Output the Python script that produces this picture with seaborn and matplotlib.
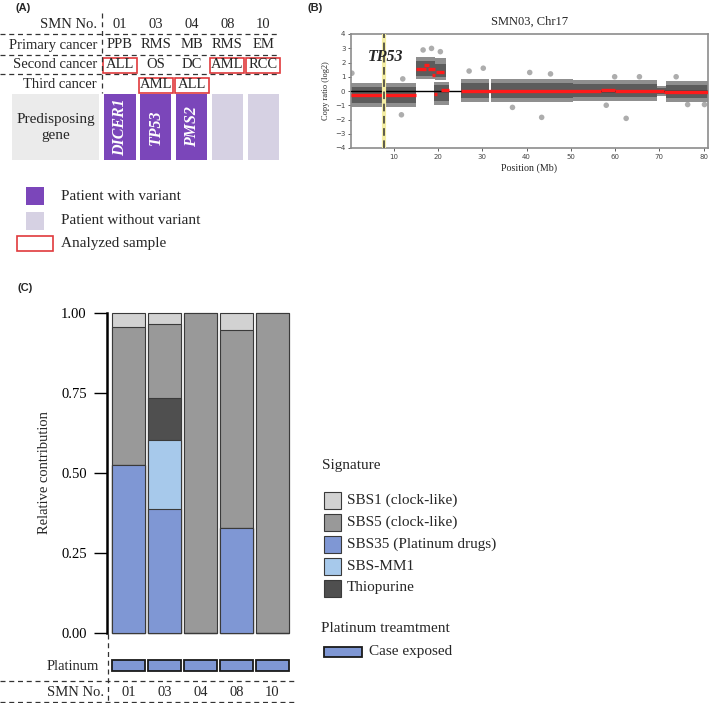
import matplotlib
matplotlib.use('Agg')
import matplotlib.pyplot as plt
import matplotlib.patches as mpatches
import numpy as np
import pandas as pd
import seaborn as sns

sns.set_theme(style='white')
plt.rcParams['font.family'] = ['Liberation Serif', 'DejaVu Sans']

W, H = 709, 703

# ---------------- panel A data
smn_ids = ['01', '03', '04', '08', '10']
primary_cancer = ['PPB', 'RMS', 'MB', 'RMS', 'EM']
second_cancer = ['ALL', 'OS', 'DC', 'AML', 'RCC']
third_cancer = ['', 'AML', 'ALL', '', '']
predisposing_gene = ['DICER1', 'TP53', 'PMS2', '', '']
analyzed_second = [True, False, False, True, True]
analyzed_third = [False, True, True, False, False]

# ---------------- panel B data (SMN03, chr17)
seg_start = [0.3, 15.0, 16.8, 17.8, 18.7, 19.0, 19.6, 20.7, 25.2, 56.8, 59.9, 71.0]
seg_end = [15.0, 17.2, 18.0, 19.3, 19.4, 19.8, 21.3, 22.5, 56.8, 59.9, 71.0, 81.0]
seg_log2 = [-0.30, 1.55, 1.85, 1.55, 1.15, -0.20, 1.35, 0.05, 0.0, 0.10, 0.02, -0.05]

cloud_start = [0.3, 15.0, 19.4, 19.0, 25.2, 32.0, 50.5, 69.5, 71.5]
cloud_end = [15.0, 19.3, 21.7, 22.4, 31.6, 50.5, 69.5, 71.5, 81.0]
core_low = [-0.85, 1.05, 1.0, -0.7, -0.5, -0.5, -0.45, -0.2, -0.5]
core_high = [0.25, 2.1, 1.9, 0.4, 0.55, 0.55, 0.5, 0.2, 0.45]
halo_low = [-1.1, 0.85, 0.8, -1.0, -0.75, -0.8, -0.7, -0.35, -0.75]
halo_high = [0.55, 2.4, 2.3, 0.6, 0.85, 0.85, 0.8, 0.35, 0.7]

outlier_pos = [0.5, 11.7, 12.0, 16.6, 18.5, 20.5, 27.0, 30.2, 36.8, 40.7, 43.4,
               45.4, 58.0, 59.9, 62.5, 65.5, 73.8, 76.4, 80.2]
outlier_log2 = [1.25, -1.67, 0.85, 2.88, 2.99, 2.76, 1.4, 1.6, -1.15, 1.3, -1.85,
                1.2, -1.0, 1.0, -1.92, 1.0, 1.0, -0.95, -0.95]
tp53_pos = 7.7

# ---------------- panel C data
signatures = ['SBS35 (Platinum drugs)', 'SBS-MM1', 'Thiopurine',
              'SBS5 (clock-like)', 'SBS1 (clock-like)']
sbs35 = [0.524, 0.389, 0.0, 0.328, 0.0]
sbs_mm1 = [0.0, 0.213, 0.0, 0.0, 0.0]
thiopurine = [0.0, 0.132, 0.0, 0.0, 0.0]
sbs5 = [0.432, 0.232, 1.0, 0.619, 1.0]
sbs1 = [0.044, 0.034, 0.0, 0.053, 0.0]
platinum_exposed = [1, 1, 1, 1, 1]

sig_colors = {'SBS1 (clock-like)': '#d2d2d2', 'SBS5 (clock-like)': '#999999',
              'SBS35 (Platinum drugs)': '#7f97d4', 'SBS-MM1': '#a7c9eb',
              'Thiopurine': '#4f4f4f'}
legend_order = ['SBS1 (clock-like)', 'SBS5 (clock-like)', 'SBS35 (Platinum drugs)',
                'SBS-MM1', 'Thiopurine']

PURPLE = '#7b46ba'
LAVENDER = '#d6d1e3'
RED = '#e03a3c'
DASH = (0, (4, 3))


def px_rect(x0, y0, x1, y1):
    return [x0 / W, 1 - y1 / H, (x1 - x0) / W, (y1 - y0) / H]


fig = plt.figure(figsize=(W / 100, H / 100), dpi=100)
bg = fig.add_axes([0, 0, 1, 1])
bg.set_xlim(0, W)
bg.set_ylim(H, 0)
bg.axis('off')

panel_font = dict(family='Liberation Sans', fontweight='bold', fontsize=8, va='center')
bg.text(16, 8, '(A)', **panel_font)
bg.text(307, 8, '(B)', **panel_font)
bg.text(17, 288, '(C)', **panel_font)

# ---------------- panel A: table
col_x = [120 + 35.8 * i for i in range(len(smn_ids))]
rows = [('SMN No.', smn_ids, 24), ('Primary cancer', primary_cancer, 45),
        ('Second cancer', second_cancer, 65), ('Third cancer', third_cancer, 85)]
for label, vals, y in rows:
    bg.text(97, y, label, ha='right', va='center', fontsize=10.5)
    for cx, v in zip(col_x, vals):
        bg.text(cx, y, v, ha='center', va='center', fontsize=10.5)

for y in [34, 54.5, 73.5]:
    bg.plot([0, 277], [y, y], ls=DASH, color='#333333', lw=0.9)
bg.plot([102, 102], [13, 93], ls=DASH, color='#333333', lw=0.9)

for flags, y in [(analyzed_second, 65), (analyzed_third, 85)]:
    for cx, f in zip(col_x, flags):
        if f:
            bg.add_patch(mpatches.Rectangle((cx - 17, y - 7.5), 34, 15, fill=False,
                                            ec=RED, lw=1.2))

bg.add_patch(mpatches.Rectangle((12, 94), 87, 66, fc='#ebebeb', ec='none'))
bg.text(55.5, 127, 'Predisposing\ngene', ha='center', va='center', fontsize=11,
        linespacing=1.3)

ax_gene = fig.add_axes(px_rect(col_x[0] - 17.9, 94, col_x[-1] + 17.9, 160))
gene_colors = [PURPLE if g else LAVENDER for g in predisposing_gene]
sns.barplot(x=smn_ids, y=[1] * len(smn_ids), hue=smn_ids, palette=gene_colors,
            legend=False, width=0.866, saturation=1, linewidth=0, ax=ax_gene)
for i, g in enumerate(predisposing_gene):
    if g:
        ax_gene.text(i, 0.5, g, rotation=90, color='white', fontweight='bold',
                     style='italic', fontsize=11.5, ha='center', va='center')
ax_gene.set_xlim(-0.5, len(smn_ids) - 0.5)
ax_gene.set_ylim(0, 1)
ax_gene.axis('off')

# panel A legend
bg.add_patch(mpatches.Rectangle((26, 187), 18, 18, fc=PURPLE, ec='none'))
bg.add_patch(mpatches.Rectangle((26, 212), 18, 18, fc=LAVENDER, ec='none'))
bg.add_patch(mpatches.Rectangle((17, 236), 36, 15, fill=False, ec=RED, lw=1.2))
bg.text(61, 196, 'Patient with variant', va='center', fontsize=11)
bg.text(61, 220, 'Patient without variant', va='center', fontsize=11)
bg.text(61, 243, 'Analyzed sample', va='center', fontsize=11)

# ---------------- panel B: copy ratio
ax_b = fig.add_axes(px_rect(351, 34, 708, 148))
for s, e, lo, hi in zip(cloud_start, cloud_end, halo_low, halo_high):
    ax_b.fill_between([s, e], [lo, lo], [hi, hi], color='#8f8f8f', lw=0, zorder=1)
for s, e, lo, hi in zip(cloud_start, cloud_end, core_low, core_high):
    ax_b.fill_between([s, e], [lo, lo], [hi, hi], color='#5c5c5c', lw=0, zorder=2)
sns.scatterplot(x=outlier_pos, y=outlier_log2, color='#8a8a8a', alpha=0.7, s=16,
                edgecolor='none', ax=ax_b, zorder=2)
ax_b.axhline(0, color='black', lw=1.0, zorder=3)
ax_b.hlines(seg_log2, seg_start, seg_end, color='#ff1a1a', lw=2.4, zorder=4)
ax_b.axvline(tp53_pos, color='#f4eea4', lw=3, zorder=5)
ax_b.axvline(tp53_pos, color='#333333', lw=1.1, ls=(0, (5, 3)), zorder=6)
ax_b.text(tp53_pos + 0.4, 2.4, 'TP53', fontsize=11.5, fontweight='bold', style='italic',
          ha='center', va='center', zorder=7)
ax_b.set_xlim(0.3, 81)
ax_b.set_ylim(-4, 4)
ax_b.set_xticks(range(10, 81, 10))
ax_b.set_yticks(range(-4, 5))
ax_b.tick_params(labelsize=5, length=2, width=0.6, colors='#444444', pad=2,
                 left=True, bottom=True)
for t in ax_b.get_xticklabels() + ax_b.get_yticklabels():
    t.set_family('DejaVu Sans')
for sp in ax_b.spines.values():
    sp.set_color('#8c8c8c')
    sp.set_linewidth(1.2)
ax_b.set_title('SMN03, Chr17', fontsize=9, pad=6.5)
ax_b.set_xlabel('Position (Mb)', fontsize=7.2, labelpad=3)
ax_b.set_ylabel('Copy ratio (log2)', fontsize=6, labelpad=4)

# ---------------- panel C: signature contributions
bar_pitch = 36
ax_c = fig.add_axes(px_rect(107.5, 313, 128.5 + 4.5 * bar_pitch, 633))
ax_c.patch.set_visible(False)
df_sig = pd.DataFrame({'smn': smn_ids, 'SBS35 (Platinum drugs)': sbs35,
                       'SBS-MM1': sbs_mm1, 'Thiopurine': thiopurine,
                       'SBS5 (clock-like)': sbs5, 'SBS1 (clock-like)': sbs1})
cum = df_sig[signatures].cumsum(axis=1)
for sig in reversed(signatures):
    sns.barplot(x=df_sig['smn'], y=cum[sig], color=sig_colors[sig], width=0.92,
                saturation=1, edgecolor='#3a3a3a', linewidth=0.8, ax=ax_c)
ax_c.set_xlim(-21 / bar_pitch, 4.5)
ax_c.set_ylim(0, 1)
ax_c.set_yticks([0, 0.25, 0.5, 0.75, 1.0])
ax_c.set_yticklabels(['0.00', '0.25', '0.50', '0.75', '1.00'])
ax_c.set_xticks([])
ax_c.set_xlabel('')
ax_c.set_ylabel('Relative contribution', fontsize=10.5, labelpad=7)
for side in ['top', 'right', 'bottom']:
    ax_c.spines[side].set_visible(False)
ax_c.spines['left'].set_linewidth(1.8)
ax_c.spines['left'].set_color('black')
ax_c.tick_params(axis='y', left=True, length=9.5, width=1.0, pad=5.5, labelsize=10.5,
                 colors='black')
for p in ax_c.patches:
    p.set_clip_on(False)

ax_plat = fig.add_axes(px_rect(107.5, 660, 128.5 + 4.5 * bar_pitch, 671))
ax_plat.patch.set_visible(False)
sns.barplot(x=smn_ids, y=platinum_exposed, color=sig_colors['SBS35 (Platinum drugs)'],
            width=0.92, saturation=1, edgecolor='#1a1a1a', linewidth=1.3, ax=ax_plat)
ax_plat.set_xlim(-21 / bar_pitch, 4.5)
ax_plat.set_ylim(0, 1)
ax_plat.axis('off')
for p in ax_plat.patches:
    p.set_clip_on(False)

bg.text(99, 667, 'Platinum', ha='right', va='center', fontsize=10.5)
bg.text(104, 692, 'SMN No.', ha='right', va='center', fontsize=10.5)
for i, s in enumerate(smn_ids):
    bg.text(128.5 + bar_pitch * i, 692, s, ha='center', va='center', fontsize=10.5)
bg.plot([0, 294], [681, 681], ls=DASH, color='#333333', lw=0.9)
bg.plot([0, 294], [701.5, 701.5], ls=DASH, color='#333333', lw=0.9)
bg.plot([108, 108], [634, 703], ls=DASH, color='#333333', lw=0.9)

# panel C legend
bg.text(322, 465, 'Signature', va='center', fontsize=11)
for k, sig in enumerate(legend_order):
    y = 500 + 22 * k
    bg.add_patch(mpatches.Rectangle((324, y - 8.5), 17, 17, fc=sig_colors[sig],
                                    ec='#3a3a3a', lw=0.8))
    bg.text(347, y, sig, va='center', fontsize=11)
bg.text(321, 629, 'Platinum treamtment', va='center', fontsize=11)
bg.add_patch(mpatches.Rectangle((324, 647), 38, 10,
                                fc=sig_colors['SBS35 (Platinum drugs)'],
                                ec='#1a1a1a', lw=1.3))
bg.text(369, 652, 'Case exposed', va='center', fontsize=11)

fig.savefig('out.png', dpi=100)
